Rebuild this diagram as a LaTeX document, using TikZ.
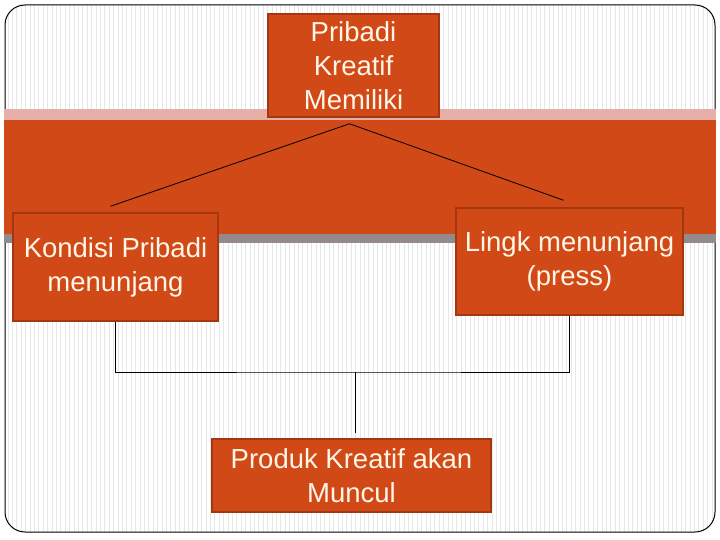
\documentclass[tikz,border=0pt]{standalone}
\usepackage{fontspec}
\setmainfont{Liberation Sans}
\definecolor{rust}{RGB}{209,73,22}
\definecolor{rustedge}{RGB}{165,54,18}
\definecolor{blush}{RGB}{230,176,168}
\definecolor{ash}{RGB}{148,138,140}
\definecolor{cream}{RGB}{255,246,232}
\definecolor{stripe}{RGB}{230,231,232}
\tikzset{box/.style = {draw=rustedge, line width=1.5pt, fill=rust, text=cream, align=center, inner sep=0pt, font=\fontsize{27.5}{34}\selectfont},
link/.style = {black, line width=0.8pt}}

\begin{document}
\begin{tikzpicture}[x=1pt,y=-1pt]
\useasboundingbox (0,0) rectangle (720,540);
\fill[white] (0,0) rectangle (720,540);

% striped page with rounded frame
\begin{scope}
\clip[rounded corners=20pt] (5,5) rectangle (715,532);
\foreach \x in {8,12.4,...,714}
  \draw[stripe, line width=0.8pt] (\x,5) -- (\x,532);
\end{scope}
\draw[line width=1pt, rounded corners=20pt] (5,5) rectangle (715,532);

% band
\fill[blush] (4,109) rectangle (716,121);
\fill[rust] (4,120) rectangle (716,234);
\fill[ash] (4,234) rectangle (716,243);

\node[box, minimum width=171pt, minimum height=103pt] (top) at (353.5,65.5) {Pribadi\\Kreatif\\Memiliki};
\node[box, minimum width=205pt, minimum height=108pt] (left) at (115.5,267) {Kondisi Pribadi\\menunjang};
\node[box, minimum width=227pt, minimum height=107pt] (right) at (569.5,261.5) {Lingk menunjang\\(press)};
\node[box, minimum width=279pt, minimum height=73pt] (bottom) at (351.5,475.5) {Produk Kreatif akan\\Muncul};

\coordinate (apex) at ([xshift=-4pt,yshift=-6pt]top.south);
\coordinate (leftend) at ([xshift=-5pt,yshift=6pt]left.north);
\coordinate (rightend) at ([xshift=-6pt,yshift=7pt]right.north);
\draw[link] (leftend) -- (apex) -- (rightend);

\coordinate (bar) at (355,372);
\draw[link] (left.south) |- (bar) -| (right.south);
\draw[link] (bar) -- ([yshift=5pt]bar |- bottom.north);
\end{tikzpicture}
\end{document}
